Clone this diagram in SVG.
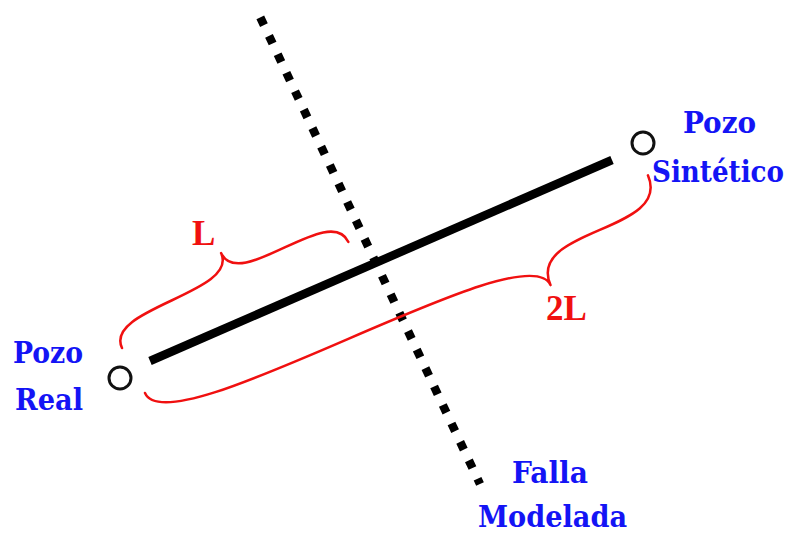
<svg xmlns="http://www.w3.org/2000/svg" width="788" height="533" viewBox="0 0 788 533">
<style>
.lbl{font-family:"DejaVu Serif Condensed","DejaVu Serif","Liberation Serif",serif;font-weight:bold;fill:#1414f5;font-size:30px}
.red{font-family:"Liberation Serif","DejaVu Serif",serif;font-weight:bold;fill:#f01010;font-size:35px}
.brace{fill:none;stroke:#f01010;stroke-width:2.5;stroke-linecap:round}
.well{fill:#fff;stroke:#111;stroke-width:3}
</style>
<rect width="788" height="533" fill="#fff"/>
<g id="connectors">
<line id="fault" x1="260.3" y1="17.4" x2="480" y2="484" stroke="#000" stroke-width="8.5" stroke-dasharray="8.5 11.9"/>
<line id="section" x1="150" y1="361" x2="612" y2="160" stroke="#000" stroke-width="8.5"/>
<g id="brace-L" transform="translate(122,348) rotate(-25.1)">
<path class="brace" d="M0,0 C0,-44 130,0 130,-44 M250,0 C250,-44 130,0 130,-44"/>
</g>
<g id="brace-2L" transform="translate(145,393) rotate(-23.4)">
<path class="brace" d="M0,0 C0,62 415,0 415,62 M548,0 C548,62 415,0 415,62"/>
</g>
</g>
<g id="pozo-real">
<circle class="well" cx="120" cy="378" r="11"/>
<text class="lbl" x="13" y="363" textLength="70" lengthAdjust="spacingAndGlyphs">Pozo</text>
<text class="lbl" x="15" y="410" textLength="68" lengthAdjust="spacingAndGlyphs">Real</text>
</g>
<g id="pozo-sintetico">
<circle class="well" cx="643" cy="143" r="11"/>
<text class="lbl" x="683" y="133" textLength="73" lengthAdjust="spacingAndGlyphs">Pozo</text>
<text class="lbl" x="652" y="182" textLength="132" lengthAdjust="spacingAndGlyphs">Sintético</text>
</g>
<g id="falla">
<text class="lbl" x="512" y="483" textLength="76" lengthAdjust="spacingAndGlyphs">Falla</text>
<text class="lbl" x="478" y="527" textLength="149" lengthAdjust="spacingAndGlyphs">Modelada</text>
</g>
<g id="labels">
<text class="red" x="192" y="245">L</text>
<text class="red" x="546" y="320">2L</text>
</g>
</svg>
